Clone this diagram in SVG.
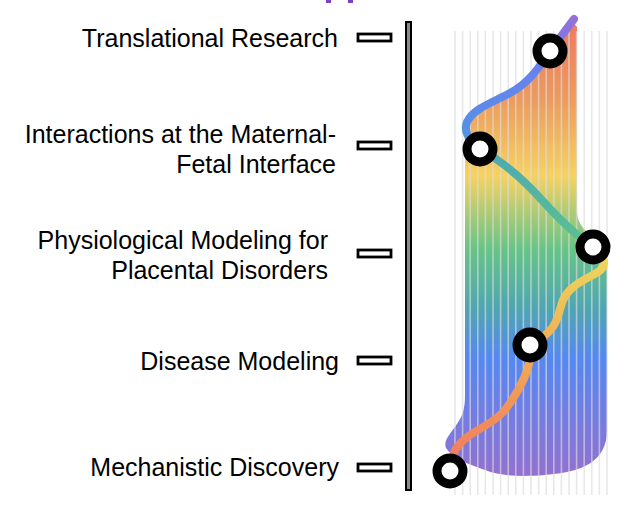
<svg xmlns="http://www.w3.org/2000/svg" width="626" height="514" viewBox="0 0 626 514">
<defs>
<style>
.lbl{font-family:"Liberation Sans",Arial,sans-serif;font-size:25px;fill:#000;text-anchor:end}
.tick{fill:#fff;stroke:#000;stroke-width:2.8}
.grid line{stroke:#dcdcdc;stroke-opacity:0.65;stroke-width:1.6}
.node circle{fill:#fff;stroke:#000;stroke-width:9}
</style>
<linearGradient id="fillG" gradientUnits="userSpaceOnUse" x1="0" y1="20" x2="0" y2="478">
<stop offset="0" stop-color="#f07862"/>
<stop offset="0.17" stop-color="#ec9a5e"/>
<stop offset="0.34" stop-color="#f6d262"/>
<stop offset="0.5" stop-color="#66c487"/>
<stop offset="0.63" stop-color="#4ea6b2"/>
<stop offset="0.74" stop-color="#5588f2"/>
<stop offset="1" stop-color="#9470d0"/>
</linearGradient>
<linearGradient id="lineG" gradientUnits="userSpaceOnUse" x1="0" y1="18" x2="0" y2="470">
<stop offset="0" stop-color="#9470d8"/>
<stop offset="0.1" stop-color="#6a80ee"/>
<stop offset="0.25" stop-color="#5590e6"/>
<stop offset="0.3" stop-color="#4eaab0"/>
<stop offset="0.5" stop-color="#5cc090"/>
<stop offset="0.52" stop-color="#ecd860"/>
<stop offset="0.72" stop-color="#f0b055"/>
<stop offset="1" stop-color="#f07860"/>
</linearGradient>
</defs>
<rect width="626" height="514" fill="#fff"/>
<rect x="326" y="0" width="5" height="3" fill="#7b3fc8"/>
<rect x="348" y="0" width="5" height="3" fill="#7b3fc8"/>

<g id="labels">
<g id="label-translational"><text class="lbl" x="338" y="47">Translational Research</text><rect class="tick" x="358" y="34" width="33" height="7"/></g>
<g id="label-interactions"><text class="lbl" x="336" y="143">Interactions at the Maternal-</text><text class="lbl" x="336" y="173">Fetal Interface</text><rect class="tick" x="358" y="142" width="33" height="7"/></g>
<g id="label-physiological"><text class="lbl" x="328" y="249">Physiological Modeling for</text><text class="lbl" x="328" y="279">Placental Disorders</text><rect class="tick" x="358" y="250" width="33" height="7"/></g>
<g id="label-disease"><text class="lbl" x="339" y="370">Disease Modeling</text><rect class="tick" x="358" y="357" width="33" height="7"/></g>
<g id="label-mechanistic"><text class="lbl" x="339" y="476">Mechanistic Discovery</text><rect class="tick" x="358" y="464" width="33" height="7"/></g>
</g>
<g id="axis"><rect x="406" y="22" width="5" height="468" fill="#8a8a8a" stroke="#000" stroke-width="2"/></g>

<g id="area">
<path d="M572 21 L577 27 L577 212 Q578 230 598 238 L607 248 L607 430 C607 462 582 472 545 475 C520 477 500 476 485 470 C470 465 452 458 446 448 C442 438 458 428 463 412 C465 405 465 400 465 392 L465 132 C466 112 480 104 498 97 C515 90 530 78 545 58 Z" fill="url(#fillG)"/>
</g>
<g class="grid">
<line x1="455" y1="31" x2="455" y2="495"/><line x1="462.6" y1="31" x2="462.6" y2="495"/><line x1="470.2" y1="31" x2="470.2" y2="495"/><line x1="477.8" y1="31" x2="477.8" y2="495"/><line x1="485.4" y1="31" x2="485.4" y2="495"/><line x1="493" y1="31" x2="493" y2="495"/><line x1="500.6" y1="31" x2="500.6" y2="495"/><line x1="508.2" y1="31" x2="508.2" y2="495"/><line x1="515.8" y1="31" x2="515.8" y2="495"/><line x1="523.4" y1="31" x2="523.4" y2="495"/><line x1="531" y1="31" x2="531" y2="495"/><line x1="538.6" y1="31" x2="538.6" y2="495"/><line x1="546.2" y1="31" x2="546.2" y2="495"/><line x1="553.8" y1="31" x2="553.8" y2="495"/><line x1="561.4" y1="31" x2="561.4" y2="495"/><line x1="569" y1="31" x2="569" y2="495"/><line x1="576.6" y1="31" x2="576.6" y2="495"/><line x1="584.2" y1="31" x2="584.2" y2="495"/><line x1="591.8" y1="31" x2="591.8" y2="495"/><line x1="599.4" y1="31" x2="599.4" y2="495"/><line x1="607" y1="31" x2="607" y2="495"/>
</g>

<g id="connectors" fill="none" stroke="url(#lineG)" stroke-width="8" stroke-linecap="round">
<path d="M574 19 L550 51 C540 66 530 82 510 93 C492 103 474 108 467 122 C463 132 470 142 480 149"/>
<path d="M480 149 C500 160 520 176 540 198 C558 218 575 235 593 247"/>
<path d="M593 247 C605 258 608 265 598 272 C585 280 570 285 563 300 C557 315 560 330 530 345"/>
<path d="M530 345 C533 365 520 390 505 410 C490 428 468 430 455 450 L450 471"/>
</g>

<g id="n1" class="node"><circle cx="550" cy="51" r="13"/></g>
<g id="n2" class="node"><circle cx="480" cy="149" r="13"/></g>
<g id="n3" class="node"><circle cx="593" cy="247" r="13"/></g>
<g id="n4" class="node"><circle cx="530" cy="345" r="13"/></g>
<g id="n5" class="node"><circle cx="450" cy="471" r="13"/></g>
</svg>
